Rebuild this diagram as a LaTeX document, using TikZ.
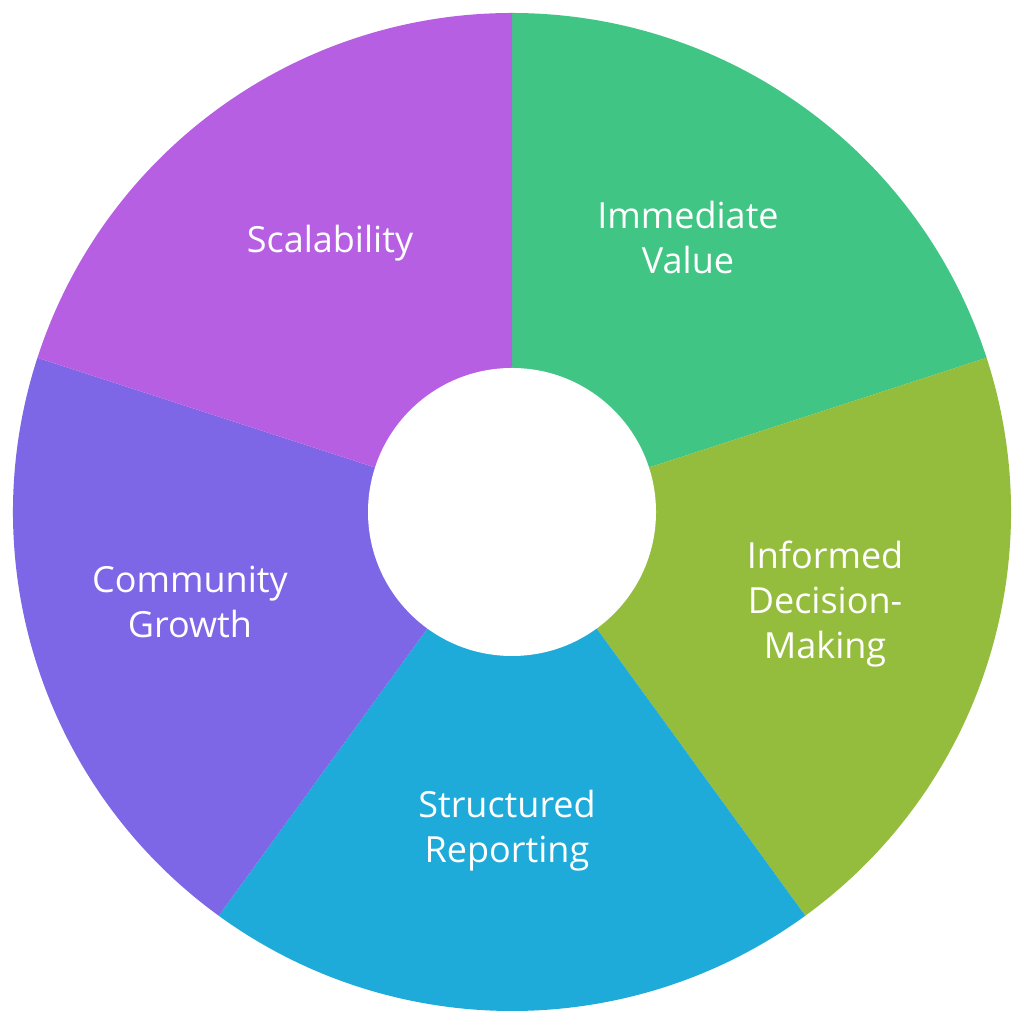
\documentclass[tikz,border=0pt]{standalone}
\usepackage{fontspec}
\setmainfont{Open Sans}
\definecolor{cgreen}{HTML}{41C585}
\definecolor{colive}{HTML}{95BD3D}
\definecolor{cblue}{HTML}{1EABDA}
\definecolor{cviolet}{HTML}{7D67E6}
\definecolor{cmagenta}{HTML}{B75FE3}
\newcommand{\donutslice}[3]{%
  \fill[#1] (512,512) -- ++(#2:499) arc[start angle=#2,end angle=#3,radius=499] -- cycle;}
\begin{document}
\begin{tikzpicture}[x=1pt,y=1pt,
  lbl/.style={text=white,align=center,font=\fontsize{36}{45}\selectfont,inner sep=0pt,anchor=base}]
\useasboundingbox (0,0) rectangle (1018,1024);
\fill[white] (0,0) rectangle (1018,1024);
\coordinate (c) at (512,512);
\donutslice{cgreen}{90}{18}
\donutslice{colive}{18}{-54}
\donutslice{cblue}{-54}{-126}
\donutslice{cviolet}{-126}{-198}
\donutslice{cmagenta}{162}{90}
\fill[white] (c) circle[radius=144];
\node[lbl] (immediate) at (688,750) {Immediate\\Value};
\node[lbl] (informed) at (825,365) {Informed\\Decision-\\Making};
\node[lbl] (structured) at (507,161) {Structured\\Reporting};
\node[lbl] (community) at (190,386) {Community\\Growth};
\node[lbl] (scalability) at (330,771) {Scalability};
\end{tikzpicture}
\end{document}
